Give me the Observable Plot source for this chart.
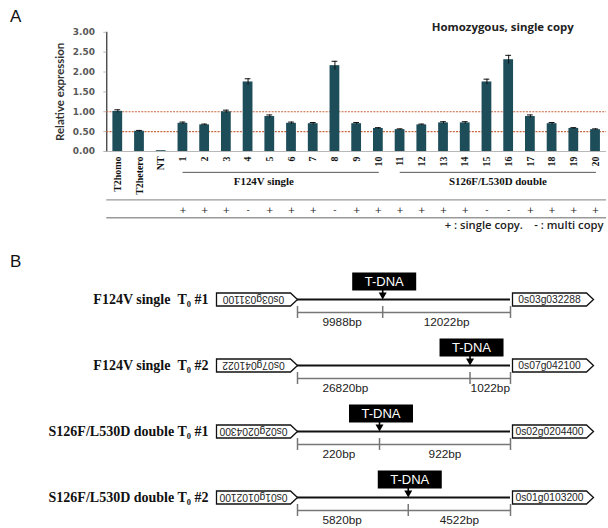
<!DOCTYPE html>
<html><head><meta charset="utf-8">
<script src="https://cdn.jsdelivr.net/npm/d3@7"></script>
<script src="https://cdn.jsdelivr.net/npm/@observablehq/plot@0.6"></script>
<style>
html,body{margin:0;padding:0;background:#fff;overflow:hidden}
#fig{position:relative;width:608px;height:528px;overflow:hidden;background:#fff}
#fig svg{position:absolute;left:0}
.panel{position:absolute;font:17px "Liberation Sans",Arial,sans-serif;line-height:17px;color:#111}
#fig [aria-label^="y-axis"] line, #fig [aria-label^="y-axis"] path {stroke:#b8b8b8}
#fig [aria-label^="y-axis"] text {fill:#595959}
</style></head><body>
<div id="fig">
  <div class="panel" style="left:10px;top:8px">A</div>
  <div class="panel" style="left:10px;top:253px">B</div>
</div>
<script>
// ---------- Panel A data ----------
const categories = ["T2homo","T2hetero","NT","1","2","3","4","5","6","7","8","9","10","11","12","13","14","15","16","17","18","19","20"];
const expression = [1.01,0.51,0.02,0.71,0.67,1.00,1.75,0.88,0.71,0.70,2.16,0.70,0.58,0.55,0.67,0.72,0.72,1.75,2.31,0.88,0.70,0.58,0.55];
const expressionError = [0.04,0.02,0,0.03,0.02,0.04,0.08,0.04,0.03,0.03,0.11,0.03,0.02,0.02,0.02,0.03,0.03,0.07,0.11,0.04,0.03,0.02,0.02];
const transgenicLines = ["1","2","3","4","5","6","7","8","9","10","11","12","13","14","15","16","17","18","19","20"];
const copyNumber = ["+","+","+","-","+","+","+","-","+","+","+","+","+","+","-","-","+","+","+","+"];
const groupNames = ["F124V single","S126F/L530D double"];
const groupFirst = ["1","11"];
const groupLast = ["10","20"];
const referenceLevels = [1.0, 0.5];
const yTicks = [0,0.5,1,1.5,2,2.5,3];
const yLabel = "Relative expression";
const chartTitle = "Homozygous, single copy";
const copyLegend = "+ : single copy.\u2003- : multi copy";

// ---------- Panel B data ----------
const insertionLines = ["F124V single\u2002T\u2080 #1","F124V single\u2002T\u2080 #2","S126F/L530D double T\u2080 #1","S126F/L530D double T\u2080 #2"];
const leftGenes = ["0s03g031100","0s07g041022","0s02g0204300","0s01g0102100"];
const rightGenes = ["0s03g032288","0s07g042100","0s02g0204400","0s01g0103200"];
const leftDistanceBp = [9988, 26820, 220, 5820];
const rightDistanceBp = [12022, 1022, 922, 4522];
const insertionSite = [0.40, 0.81, 0.385, 0.52]; // schematic site of the T-DNA between the two flanking genes

const serif = "'Liberation Serif','Times New Roman',serif";
const sans = "'Liberation Sans',Arial,sans-serif";
const fig = document.getElementById("fig");

// ---------- Panel A ----------
const bars = categories.map((c,i)=>({cat:c, value:expression[i], err:expressionError[i]}));
const copies = transgenicLines.map((c,i)=>({cat:c, mark:copyNumber[i]}));
const groupLinePts = groupNames.flatMap((g,i)=>[{g, cat:groupFirst[i]},{g, cat:groupLast[i]}]);
const groupLabels = groupNames.map((g,i)=>{
  const a = transgenicLines.indexOf(groupFirst[i]), b = transgenicLines.indexOf(groupLast[i]);
  return {g, cat: transgenicLines[Math.floor((a+b)/2)]};
});
const groupShift = [-6, 11];

const plotA = Plot.plot({
  width: 612, height: 240,
  marginLeft: 107, marginRight: 2, marginTop: 32, marginBottom: 88,
  style: {fontFamily: "'DejaVu Sans',sans-serif", fontSize: "9px", fontWeight: "bold", background: "transparent"},
  x: {type: "band", domain: categories, paddingInner: 0.55, paddingOuter: 0.28, round: false, axis: null},
  y: {domain: [0,3], ticks: yTicks, tickFormat: d => d.toFixed(2), tickSize: 3, tickPadding: 9, line: true, label: null},
  marks: [
    Plot.ruleY(referenceLevels, {stroke: "#c8643c", strokeWidth: 1.1, strokeDasharray: "2,1.2"}),
    Plot.barY(bars, {x: "cat", y: "value", fill: "#1e4d5a"}),
    Plot.ruleX(bars.filter(d=>d.err>0), {x: "cat", y1: d=>d.value-d.err, y2: d=>d.value+d.err, stroke: "#111", strokeWidth: 1}),
    Plot.tickY(bars.filter(d=>d.err>0), {x: "cat", y: d=>d.value+d.err, stroke: "#111", insetLeft: 2, insetRight: 2}),
    Plot.ruleY([0], {stroke: "#b8b8b8", strokeWidth: 1.2}),
    Plot.text(bars, {x: "cat", y: () => 0, text: "cat", rotate: -90, textAnchor: "end", lineAnchor: "middle", dy: 5, fontFamily: serif, fontWeight: "bold", fontSize: 10, fill: "#111"}),
    Plot.line(groupLinePts, {x: "cat", y: () => 0, z: "g", dy: 21, stroke: "#555", strokeWidth: 1}),
    ...groupLabels.map((d,i) => Plot.text([d], {x: "cat", y: () => 0, text: "g", dy: 30, dx: groupShift[i], fontFamily: serif, fontWeight: "bold", fontSize: 11, fill: "#111"})),
    Plot.ruleY([0], {dy: 48.7, stroke: "#999", strokeWidth: 1.3}),
    Plot.text(copies, {x: "cat", y: () => 0, text: "mark", dy: 58.7, fontFamily: "'DejaVu Sans',sans-serif", fontWeight: "normal", fontSize: 9, fill: "#222"}),
    Plot.ruleY([0], {dy: 66.7, stroke: "#999", strokeWidth: 1.3}),
    Plot.text([chartTitle], {frameAnchor: "top-right", textAnchor: "end", dx: -33, dy: -9, fontFamily: "'Open Sans',sans-serif", fontWeight: "bold", fontSize: 11.5, fill: "#222"}),
    Plot.text([copyLegend], {frameAnchor: "bottom-right", textAnchor: "end", dx: -3, dy: 78, fontFamily: "'Open Sans',sans-serif", fontWeight: 600, fontSize: 11.3, fill: "#222"}),
    Plot.text([yLabel], {x: () => categories[0], y: () => 1.5, rotate: -90, dx: -58, fontFamily: "Lato,sans-serif", fontWeight: "bold", fontSize: 11.5, fill: "#333"})
  ]
});
plotA.style.top = "0px";
fig.appendChild(plotA);

// ---------- Panel B ----------
const rows = insertionLines.map((n,i)=>({name:n, left:leftGenes[i], right:rightGenes[i], lbp:leftDistanceBp[i], rbp:rightDistanceBp[i], site:insertionSite[i]}));
const scaleTicks = rows.flatMap(r=>[0, r.site, 1].map(x=>({name:r.name, x})));

const leftBox = {draw(ctx){ ctx.moveTo(-81,-6.5); ctx.lineTo(-7,-6.5); ctx.lineTo(0,0); ctx.lineTo(-7,6.5); ctx.lineTo(-81,6.5); ctx.closePath(); }};
const rightBox = {draw(ctx){ ctx.moveTo(2,-6.5); ctx.lineTo(76,-6.5); ctx.lineTo(83,0); ctx.lineTo(76,6.5); ctx.lineTo(2,6.5); ctx.closePath(); }};
const tdnaBox = {draw(ctx){ ctx.rect(-32,-9,64,18); }};
const arrowDown = {draw(ctx){ ctx.moveTo(-0.8,-9.5); ctx.lineTo(0.8,-9.5); ctx.lineTo(0.8,-7); ctx.lineTo(4,-7); ctx.lineTo(0,0); ctx.lineTo(-4,-7); ctx.lineTo(-0.8,-7); ctx.closePath(); }};

const plotB = Plot.plot({
  width: 608, height: 288,
  margin: 0,
  style: {background: "transparent"},
  x: {type: "linear", domain: [0,1], range: [297, 510], axis: null},
  y: {type: "point", domain: insertionLines, range: [59, 257], padding: 0, axis: null},
  marks: [
    Plot.ruleY(rows, {y: "name", x1: 0, x2: 1, stroke: "#111", strokeWidth: 2}),
    Plot.ruleY(rows, {y: "name", x1: 0, x2: 1, dy: 13, stroke: "#777", strokeWidth: 1.5}),
    Plot.ruleX(scaleTicks, {x: "x", y1: "name", y2: "name", dy: 13, insetTop: -6, insetBottom: -6, stroke: "#777", strokeWidth: 1.5}),
    Plot.dot(rows, {x: 0, y: "name", symbol: leftBox, fill: "white", stroke: "#111", strokeWidth: 1.3}),
    Plot.dot(rows, {x: 1, y: "name", symbol: rightBox, fill: "white", stroke: "#111", strokeWidth: 1.3}),
    Plot.text(rows, {x: 0, y: "name", text: "left", rotate: 180, dx: -44, fontFamily: sans, fontSize: 10.3, fill: "#222"}),
    Plot.text(rows, {x: 1, y: "name", text: "right", dx: 39, fontFamily: sans, fontSize: 10.3, fill: "#222"}),
    Plot.dot(rows, {x: "site", y: "name", symbol: tdnaBox, fill: "#000", dx: 1.5, dy: -18}),
    Plot.text(rows, {x: "site", y: "name", text: () => "T-DNA", dx: 1.5, dy: -18, fill: "#fff", fontFamily: sans, fontSize: 13}),
    Plot.dot(rows, {x: "site", y: "name", symbol: arrowDown, fill: "#000"}),
    Plot.text(rows, {x: 0, y: "name", text: d => d.lbp + "bp", textAnchor: "start", dx: 25, dy: 23, fontFamily: sans, fontSize: 11.8, fill: "#222"}),
    Plot.text(rows, {x: d => (d.site+1)/2, y: "name", text: d => d.rbp + "bp", dy: 23, fontFamily: sans, fontSize: 11.8, fill: "#222"}),
    Plot.text(rows, {x: 0, y: "name", text: "name", textAnchor: "end", dx: -89, fontFamily: serif, fontWeight: "bold", fontSize: 14, fill: "#111"})
  ]
});
plotB.style.top = "240px";
fig.appendChild(plotB);
</script>
</body></html>
